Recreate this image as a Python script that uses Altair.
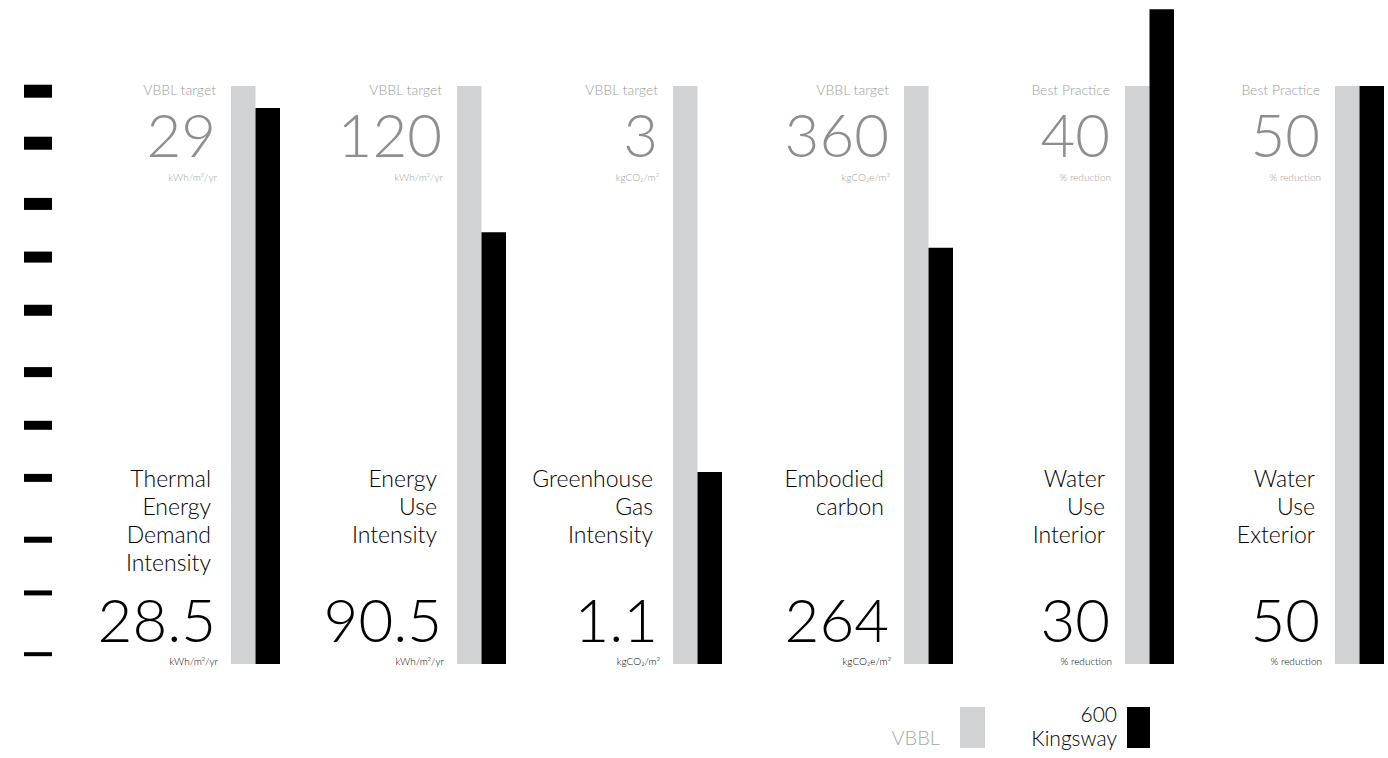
import altair as alt
import pandas as pd

# ---------------- data ----------------
series = ["VBBL", "600 Kingsway"]
series_colors = ["#d1d2d4", "#000000"]

names = [
    "Thermal\nEnergy\nDemand\nIntensity",
    "Energy\nUse\nIntensity",
    "Greenhouse\nGas\nIntensity",
    "Embodied\ncarbon",
    "Water\nUse\nInterior",
    "Water\nUse\nExterior",
]
target_labels = ["VBBL target", "VBBL target", "VBBL target", "VBBL target",
                 "Best Practice", "Best Practice"]
targets = ["29", "120", "3", "360", "40", "50"]
actuals = ["28.5", "90.5", "1.1", "264", "30", "50"]
units = ["kWh/m²/yr", "kWh/m²/yr", "kgCO₂/m²", "kgCO₂e/m²", "% reduction", "% reduction"]

# bar heights as % of target
vbbl_heights = [100, 100, 100, 100, 100, 100]
kingsway_heights = [96.2, 74.7, 33.2, 72.0, 113.3, 100.0]

# decorative scale ticks on the left (position in % units, thickness px)
tick_positions = [99.1, 90.1, 79.6, 70.4, 61.2, 50.5, 41.3, 32.2, 21.5, 12.3, 1.7]
tick_thickness = [13, 13, 12, 11, 11, 10, 9, 8, 6, 5, 4]

# ---------------- layout ----------------
panel_widths = [280, 226, 216, 231, 221, 210]
PAIR = 49
H = 664
YMAX = 114.88
FONT = "Lato"
GRAY_TXT = "#8e8e8e"
LIGHT_TXT = "#9d9d9d"

yscale = alt.Scale(domain=[0, YMAX], nice=False, zero=True)


def panel(i, w):
    cat = names[i]
    xs = alt.Scale(domain=[cat], range=[w - PAIR, w], paddingInner=0, paddingOuter=0)
    bars_df = pd.DataFrame({
        "cat": [cat, cat],
        "series": series,
        "value": [vbbl_heights[i], kingsway_heights[i]],
    })
    bars = alt.Chart(bars_df).mark_bar().encode(
        x=alt.X("cat:N", scale=xs, axis=None),
        xOffset=alt.XOffset("series:N", sort=series,
                            scale=alt.Scale(paddingInner=0, paddingOuter=0)),
        y=alt.Y("value:Q", scale=yscale, axis=None),
        color=alt.Color("series:N", scale=alt.Scale(domain=series, range=series_colors),
                        legend=None),
    )

    tdf = pd.DataFrame({
        "cat": [cat], "tl": [target_labels[i]], "target": [targets[i]],
        "unit": [units[i]], "name": [names[i]], "actual": [actuals[i]],
    })
    base = alt.Chart(tdf).encode(
        x=alt.X("cat:N", scale=xs, axis=None, bandPosition=0)
    )
    t_label = base.mark_text(align="right", baseline="alphabetic", dx=-15, fontSize=14,
                             font=FONT, fontWeight=300, color=LIGHT_TXT).encode(
        y=alt.value(95), text="tl:N")
    t_target = base.mark_text(align="right", baseline="alphabetic", dx=-15, fontSize=60,
                              font=FONT, fontWeight=300, color=GRAY_TXT).encode(
        y=alt.value(157), text="target:N")
    t_unit1 = base.mark_text(align="right", baseline="alphabetic", dx=-14, fontSize=10,
                             font=FONT, fontWeight=300, color=LIGHT_TXT).encode(
        y=alt.value(181), text="unit:N")
    t_name = base.mark_text(align="right", baseline="alphabetic", dx=-20, fontSize=23,
                            lineHeight=28, lineBreak="\n", font=FONT, fontWeight=300,
                            color="#000000").encode(
        y=alt.value(487), text="name:N")
    t_actual = base.mark_text(align="right", baseline="alphabetic", dx=-15, fontSize=60,
                              font=FONT, fontWeight=300, color="#000000").encode(
        y=alt.value(642), text="actual:N")
    t_unit2 = base.mark_text(align="right", baseline="alphabetic", dx=-13, fontSize=10,
                             font=FONT, fontWeight=300, color="#000000").encode(
        y=alt.value(665), text="unit:N")

    layers = [bars, t_label, t_target, t_unit1, t_name, t_actual, t_unit2]

    if i == 0:
        ticks_df = pd.DataFrame({"pos": tick_positions, "thick": tick_thickness})
        ticks = alt.Chart(ticks_df).mark_rule(color="#000000", strokeCap="butt").encode(
            x=alt.value(24), x2=alt.value(52),
            y=alt.Y("pos:Q", scale=yscale, axis=None),
            strokeWidth=alt.StrokeWidth("thick:Q", scale=None),
        )
        layers.insert(0, ticks)

    if i == 4:
        leg_df = pd.DataFrame({"series": series, "color": series_colors})
        leg_vbbl_txt = alt.Chart(leg_df).transform_filter(
            alt.datum.series == series[0]).mark_text(
            align="right", baseline="alphabetic", fontSize=20, font=FONT, fontWeight=300,
            color="#a8a8a8").encode(x=alt.value(-13), y=alt.value(745), text="series:N")
        leg_vbbl_box = alt.Chart(leg_df).transform_filter(
            alt.datum.series == series[0]).mark_rect().encode(
            x=alt.value(7), x2=alt.value(32), y=alt.value(707), y2=alt.value(748),
            color=alt.Color("color:N", scale=None))
        leg_k_txt = alt.Chart(leg_df).transform_filter(
            alt.datum.series == series[1]).mark_text(
            align="right", baseline="alphabetic", fontSize=21, font=FONT, fontWeight=300,
            lineBreak=" ", lineHeight=24, color="#000000").encode(
            x=alt.value(164), y=alt.value(722), text="series:N")
        leg_k_box = alt.Chart(leg_df).transform_filter(
            alt.datum.series == series[1]).mark_rect().encode(
            x=alt.value(174), x2=alt.value(197), y=alt.value(707), y2=alt.value(748),
            color=alt.Color("color:N", scale=None))
        layers += [leg_vbbl_txt, leg_vbbl_box, leg_k_txt, leg_k_box]

    return alt.layer(*layers).properties(width=w, height=H)


panels = [panel(i, w) for i, w in enumerate(panel_widths)]

chart = alt.hconcat(*panels, spacing=0, bounds="flush").properties(
    padding=0, background="#ffffff"
).configure_view(strokeWidth=0).resolve_scale(color="independent")

chart.save("out.html", embed_options={"renderer": "svg", "actions": False})
